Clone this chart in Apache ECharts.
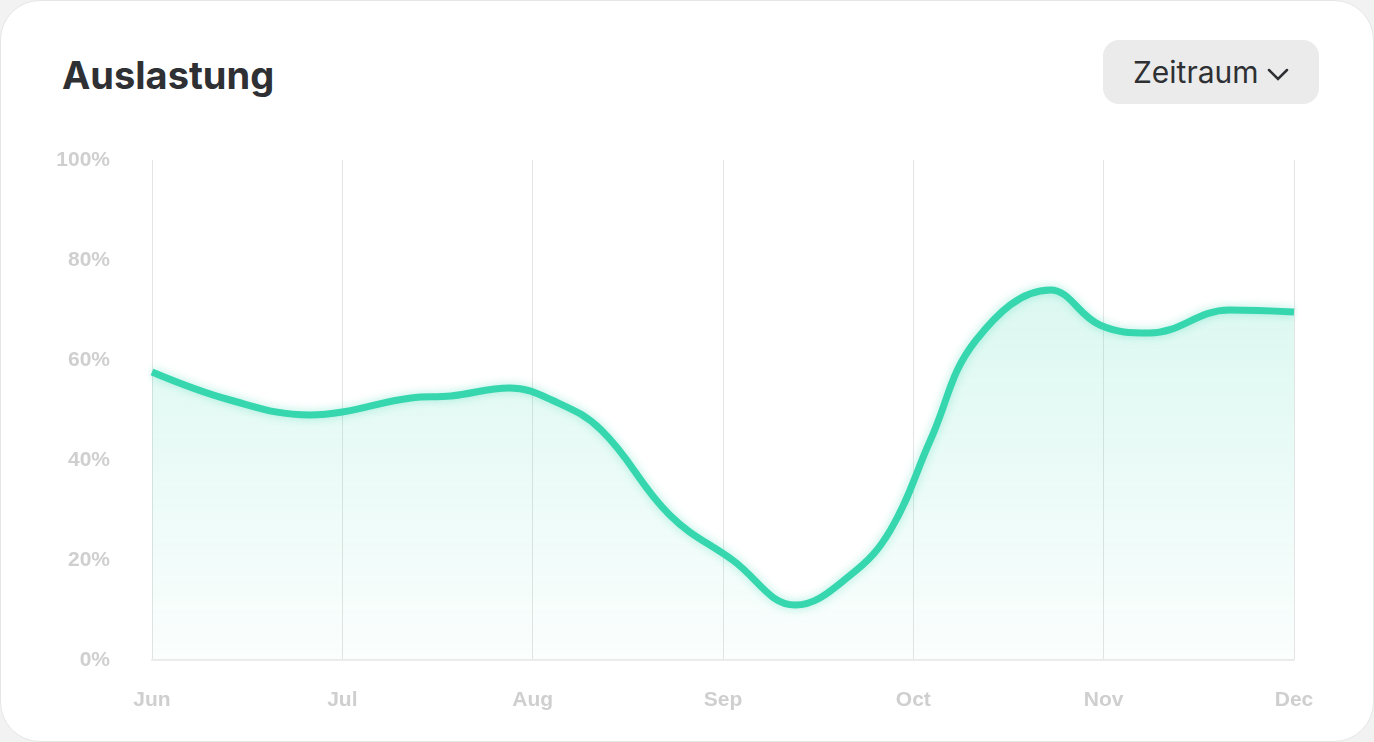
<!DOCTYPE html>
<html><head><meta charset="utf-8">
<script src="https://cdn.jsdelivr.net/npm/echarts@6/dist/echarts.min.js"></script>
<style>
html,body{margin:0;padding:0;background:#f2f2f2;font-family:Inter,"Noto Sans",sans-serif}
#card{position:absolute;left:0;top:0;width:1372px;height:740px;background:#fff;border-radius:40px;border:1px solid #e6e6e6}
#title{position:absolute;left:62px;top:52px;font-size:38px;font-weight:700;color:#2e3033}
#btn{position:absolute;left:1103px;top:40px;width:216px;height:64px;border-radius:16px;background:#ebebeb;color:#2e3033;font-size:30px;line-height:64px;text-align:center}
#main{position:absolute;left:0;top:120px;width:1374px;height:622px}
</style></head>
<body>
<div id="card"></div>
<div id="title">Auslastung</div>
<div id="btn">Zeitraum <svg width="22" height="14" viewBox="0 0 22 14" style="vertical-align:middle"><path d="M2 2 L11 11 L20 2" fill="none" stroke="#2e3033" stroke-width="2.5" stroke-linecap="round"/></svg></div>
<div id="main"></div>
<script>
const months = ["Jun", "Jul", "Aug", "Sep", "Oct", "Nov", "Dec"];
const xPos = [0, 0.41, 0.83, 1.0, 1.36, 1.57, 1.88, 2.1, 2.36, 2.72, 3.05, 3.38, 3.67, 3.88, 4.09, 4.33, 4.72, 4.98, 5.24, 5.66, 6];
const load = [57.6, 52, 49, 49.6, 52.4, 52.8, 54.4, 52, 46, 29, 20, 11, 17, 26, 44, 64, 74, 67, 65.4, 70, 69.6];

var myChart = echarts.init(document.getElementById("main"));
myChart.setOption({
  animation: false,
  grid: { left: 152, right: 80, top: 40, bottom: 82 },
  xAxis: {
    type: "value", min: 0, max: 6, interval: 1,
    axisLine: { show: true, lineStyle: { color: "#ececec", width: 2 } },
    axisTick: { show: false },
    splitLine: { show: true, lineStyle: { color: "#e4e4e4", width: 1 } },
    axisLabel: {
      formatter: (v) => months[v] || "",
      color: "#cfcfcf", fontSize: 21, fontWeight: 600, margin: 30
    }
  },
  yAxis: {
    type: "value", min: 0, max: 100, interval: 20,
    axisLine: { show: false }, axisTick: { show: false },
    splitLine: { show: false },
    axisLabel: { formatter: "{value}%", color: "#cfcfcf", fontSize: 21, fontWeight: 600, margin: 42 }
  },
  series: [{
    type: "line",
    data: xPos.map((x, i) => [x, load[i]]),
    smooth: 0.4,
    showSymbol: false,
    lineStyle: { color: "#36d6ae", width: 7, shadowColor: "rgba(54,214,174,0.4)", shadowBlur: 10 },
    areaStyle: {
      color: new echarts.graphic.LinearGradient(0, 0, 0, 1, [
        { offset: 0, color: "rgba(54,214,174,0.25)" },
        { offset: 1, color: "rgba(54,214,174,0.03)" }
      ])
    }
  }]
});
</script>
</body></html>
